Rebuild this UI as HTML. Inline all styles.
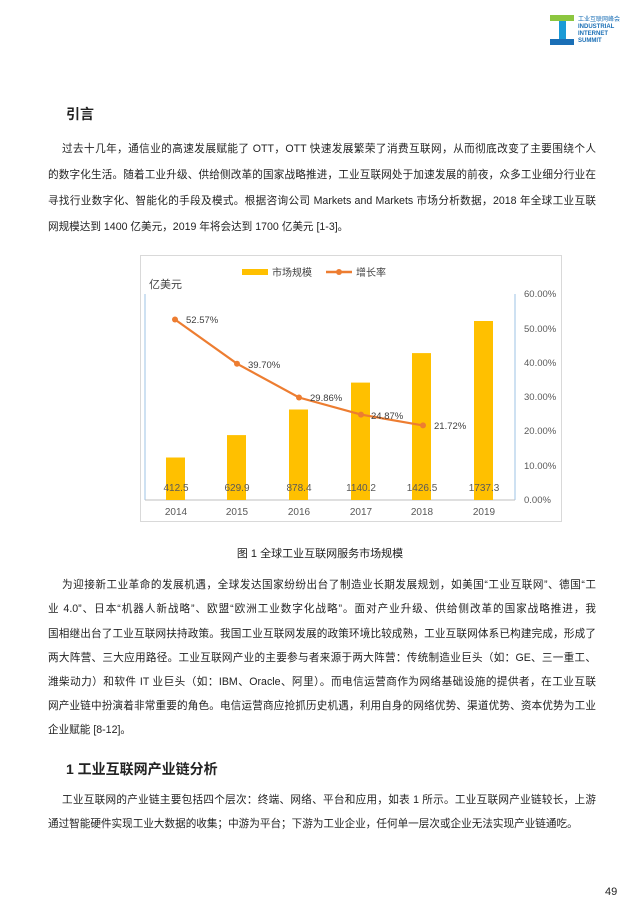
<!DOCTYPE html>
<html><head><meta charset="utf-8"><style>
body{margin:0;width:640px;height:916px;background:#fff;position:relative;font-family:"Liberation Sans","Noto Sans CJK SC",sans-serif;color:#222;overflow:hidden}
.l{position:absolute;left:48px;width:548px;font-size:10.6px;text-align:justify;text-align-last:justify;white-space:nowrap;line-height:14px}
.nl{text-align-last:left}
.h{position:absolute;font-weight:bold;font-size:14px}
</style></head><body>
<svg style="position:absolute;left:548px;top:12px" width="90" height="34">
<rect x="2" y="3" width="24" height="6" fill="#8cc63f"/><rect x="11" y="9" width="7" height="18" fill="#1a9ad6"/><rect x="2" y="27" width="24" height="6" fill="#1a6fb6"/>
<text x="30" y="9" font-size="6" fill="#1a6fb6">工业互联网峰会</text>
<text x="30" y="16" font-size="6" fill="#1a6fb6" font-weight="bold">INDUSTRIAL</text>
<text x="30" y="23" font-size="6" fill="#1a6fb6" font-weight="bold">INTERNET</text>
<text x="30" y="30" font-size="6" fill="#1a6fb6" font-weight="bold">SUMMIT</text>
</svg>
<div class="h" style="left:66px;top:104px">引言</div>
<div class="l" style="left:62px;width:534px;top:142px">过去十几年，通信业的高速发展赋能了 OTT，OTT 快速发展繁荣了消费互联网，从而彻底改变了主要围绕个人</div>
<div class="l" style="top:168px">的数字化生活。随着工业升级、供给侧改革的国家战略推进，工业互联网处于加速发展的前夜，众多工业细分行业在</div>
<div class="l" style="top:194px">寻找行业数字化、智能化的手段及模式。根据咨询公司 Markets and Markets 市场分析数据，2018 年全球工业互联</div>
<div class="l nl" style="top:220px">网规模达到 1400 亿美元，2019 年将会达到 1700 亿美元 [1-3]。</div>

<svg style="position:absolute;left:140px;top:255px" width="424" height="268" font-family="Liberation Sans,Noto Sans CJK SC,sans-serif">
<rect x="0.5" y="0.5" width="421" height="266" fill="#fff" stroke="#d9d9d9"/>
<rect x="102" y="14" width="26" height="6" fill="#ffc000"/><text x="132" y="21" font-size="10" fill="#444">市场规模</text>
<line x1="186" y1="17" x2="212" y2="17" stroke="#ed7d31" stroke-width="2.5"/><circle cx="199" cy="17" r="3" fill="#ed7d31"/><text x="216" y="21" font-size="10" fill="#444">增长率</text>
<text x="9" y="33" font-size="11" fill="#444">亿美元</text>
<line x1="5" y1="39" x2="5" y2="245" stroke="#9dc3e6"/>
<line x1="375" y1="39" x2="375" y2="245" stroke="#9dc3e6"/>
<line x1="5" y1="245" x2="375" y2="245" stroke="#bfbfbf"/>
<g fill="#ffc000">
<rect x="26" y="202.5" width="19" height="42.5"/>
<rect x="87" y="180.1" width="19" height="64.9"/>
<rect x="149" y="154.5" width="19" height="90.5"/>
<rect x="211" y="127.6" width="19" height="117.4"/>
<rect x="272" y="98.1" width="19" height="146.9"/>
<rect x="334" y="66" width="19" height="179"/>
</g>
<g font-size="10" fill="#595959" text-anchor="end">
<text x="-2" y="42">2000</text><text x="-2" y="94">1500</text><text x="-2" y="145">1000</text><text x="-2" y="197">500</text><text x="-2" y="248">0</text>
</g>
<g font-size="9.5" fill="#595959" text-anchor="start">
<text x="384" y="42">60.00%</text><text x="384" y="77">50.00%</text><text x="384" y="111">40.00%</text><text x="384" y="145">30.00%</text><text x="384" y="179">20.00%</text><text x="384" y="214">10.00%</text><text x="384" y="248">0.00%</text>
</g>
<g font-size="10" fill="#595959" text-anchor="middle">
<text x="36" y="260">2014</text><text x="97" y="260">2015</text><text x="159" y="260">2016</text><text x="221" y="260">2017</text><text x="282" y="260">2018</text><text x="344" y="260">2019</text>
<text x="36" y="236">412.5</text><text x="97" y="236">629.9</text><text x="159" y="236">878.4</text><text x="221" y="236">1140.2</text><text x="282" y="236">1426.5</text><text x="344" y="236">1737.3</text>
</g>
<polyline points="35,64.5 97,108.7 159,142.5 221,159.6 283,170.4" fill="none" stroke="#ed7d31" stroke-width="2.2"/>
<g fill="#ed7d31"><circle cx="35" cy="64.5" r="3"/><circle cx="97" cy="108.7" r="3"/><circle cx="159" cy="142.5" r="3"/><circle cx="221" cy="159.6" r="3"/><circle cx="283" cy="170.4" r="3"/></g>
<g font-size="9.5" fill="#404040">
<text x="46" y="68">52.57%</text><text x="108" y="113">39.70%</text><text x="170" y="146">29.86%</text><text x="231" y="164">24.87%</text><text x="294" y="174">21.72%</text>
</g>
</svg>
<div style="position:absolute;left:0;width:640px;top:545px;text-align:center;font-size:11px">图 1 全球工业互联网服务市场规模</div>

<div class="l" style="left:62px;width:534px;top:578px">为迎接新工业革命的发展机遇，全球发达国家纷纷出台了制造业长期发展规划，如美国“工业互联网”、德国“工</div>
<div class="l" style="top:602px">业 4.0”、日本“机器人新战略”、欧盟“欧洲工业数字化战略”。面对产业升级、供给侧改革的国家战略推进，我</div>
<div class="l" style="top:627px">国相继出台了工业互联网扶持政策。我国工业互联网发展的政策环境比较成熟，工业互联网体系已构建完成，形成了</div>
<div class="l" style="top:651px">两大阵营、三大应用路径。工业互联网产业的主要参与者来源于两大阵营：传统制造业巨头（如：GE、三一重工、</div>
<div class="l" style="top:675px">潍柴动力）和软件 IT 业巨头（如：IBM、Oracle、阿里）。而电信运营商作为网络基础设施的提供者，在工业互联</div>
<div class="l" style="top:699px">网产业链中扮演着非常重要的角色。电信运营商应抢抓历史机遇，利用自身的网络优势、渠道优势、资本优势为工业</div>
<div class="l nl" style="top:723px">企业赋能 [8-12]。</div>

<div class="h" style="left:66px;top:759px">1 工业互联网产业链分析</div>
<div class="l" style="left:62px;width:534px;top:793px">工业互联网的产业链主要包括四个层次：终端、网络、平台和应用，如表 1 所示。工业互联网产业链较长，上游</div>
<div class="l nl" style="top:817px">通过智能硬件实现工业大数据的收集；中游为平台；下游为工业企业，任何单一层次或企业无法实现产业链通吃。</div>
<div style="position:absolute;left:605px;top:886px;font-size:11px">49</div>
</body></html>
